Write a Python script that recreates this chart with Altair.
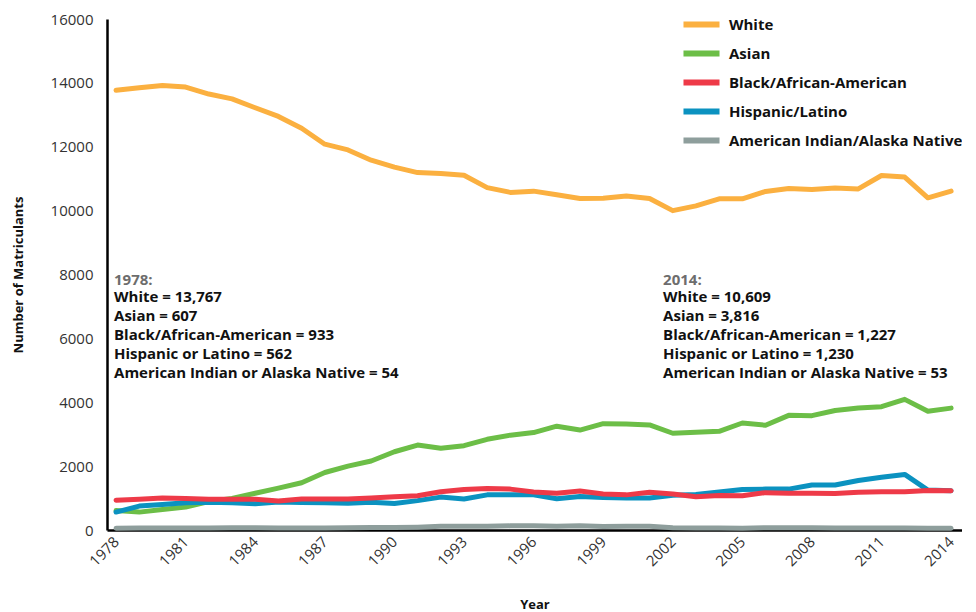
import altair as alt
import pandas as pd

years = list(range(1978, 2015))
white = [13767, 13850, 13920, 13870, 13650, 13500, 13220, 12950, 12580, 12080,
         11900, 11580, 11360, 11190, 11160, 11110, 10720, 10570, 10610, 10500,
         10380, 10390, 10460, 10380, 10000, 10150, 10370, 10370, 10600, 10690,
         10660, 10710, 10680, 11100, 11050, 10400, 10609]
asian = [607, 560, 640, 720, 890, 990, 1150, 1310, 1480, 1800,
         2000, 2160, 2450, 2660, 2560, 2640, 2840, 2970, 3050, 3250,
         3130, 3330, 3320, 3290, 3030, 3060, 3090, 3350, 3280, 3590,
         3580, 3740, 3820, 3860, 4090, 3720, 3816]
black = [933, 960, 1000, 990, 960, 960, 960, 910, 970, 970,
         970, 1000, 1040, 1070, 1200, 1270, 1300, 1280, 1190, 1150,
         1220, 1130, 1100, 1180, 1130, 1040, 1080, 1070, 1170, 1150,
         1150, 1140, 1180, 1200, 1200, 1240, 1227]
hispanic = [562, 750, 800, 850, 870, 850, 820, 880, 860, 850,
            840, 870, 830, 920, 1030, 970, 1100, 1100, 1100, 980,
            1050, 1020, 1000, 1000, 1090, 1110, 1190, 1270, 1280, 1280,
            1410, 1410, 1550, 1650, 1740, 1250, 1230]
aian = [54, 60, 65, 65, 60, 70, 70, 60, 60, 65,
        70, 75, 75, 90, 115, 120, 120, 130, 130, 120,
        130, 110, 115, 115, 70, 60, 65, 55, 70, 70,
        70, 65, 65, 60, 60, 55, 53]

groups = ["White", "Asian", "Black/African-American", "Hispanic/Latino",
          "American Indian/Alaska Native"]
colors = ["#FBB040", "#6CBE47", "#EE3A48", "#0B92C0", "#8E9E9C"]
series = {
    "American Indian/Alaska Native": aian,
    "Asian": asian,
    "Hispanic/Latino": hispanic,
    "Black/African-American": black,
    "White": white,
}
x_ticks = list(range(1978, 2015, 3))

rows = []
for g, vals in series.items():
    for y, v in zip(years, vals):
        rows.append({"Year": y, "Group": g, "Value": v})
df = pd.DataFrame(rows)

def body(i):
    return [
        f"White = {white[i]:,}",
        f"Asian = {asian[i]:,}",
        f"Black/African-American = {black[i]:,}",
        f"Hispanic or Latino = {hispanic[i]:,}",
        f"American Indian or Alaska Native = {aian[i]:,}",
    ]

ann_first = pd.DataFrame([{"Year": years[0], "Value": 8000,
                           "head": f"{years[0]}:", "body": body(0)}])
ann_last = pd.DataFrame([{"Year": years[-1], "Value": 8000,
                          "head": f"{years[-1]}:", "body": body(-1)}])

FONT = "Open Sans"

xscale = alt.Scale(domain=[1977.61, 2014.47], nice=False, zero=False)
yscale = alt.Scale(domain=[0, 16000], nice=False)

lines = alt.Chart(df).mark_line(strokeWidth=5, strokeCap="round", strokeJoin="round").encode(
    x=alt.X("Year:Q", scale=xscale,
            axis=alt.Axis(values=x_ticks, format="d", labelAngle=-45, labelAlign="right",
                          labelBaseline="middle", ticks=False, tickSize=0, labelPadding=9,
                          title="Year", titleY=74, titleBaseline="middle",
                          grid=False)),
    y=alt.Y("Value:Q", scale=yscale,
            axis=alt.Axis(values=list(range(0, 16001, 2000)), format="d", ticks=False,
                          tickSize=0, labelPadding=14, title="Number of Matriculants",
                          titleX=-89, titleBaseline="middle", grid=False)),
    color=alt.Color("Group:N", scale=alt.Scale(domain=groups, range=colors),
                    legend=alt.Legend(title=None, orient="none", legendX=578, legendY=-11,
                                      symbolType="M-1.36,0H1.36", symbolSize=702,
                                      symbolStrokeWidth=6, symbolFillColor="transparent",
                                      labelFont=FONT,
                                      labelFontSize=15, labelFontWeight="bold",
                                      labelColor="#111111", labelOffset=11,
                                      rowPadding=-1.5, labelLimit=400)),
    detail="Group:N",
)

def block(data, dx):
    head = alt.Chart(data).mark_text(align="left", baseline="middle", font=FONT,
                                     fontSize=15, fontWeight="bold", color="#6d6d6d",
                                     dx=dx, dy=5).encode(x="Year:Q", y="Value:Q", text="head")
    bod = alt.Chart(data).mark_text(align="left", baseline="top", font=FONT, fontSize=15,
                                    fontWeight="bold", color="#111111", dx=dx, dy=15,
                                    lineHeight=19).encode(x="Year:Q", y="Value:Q", text="body")
    return head + bod

chart = alt.layer(lines, block(ann_first, -2), block(ann_last, -288)).properties(
    width=855, height=511, autosize="none",
    padding={"left": 99, "top": 11, "right": 0, "bottom": 82},
).configure_axis(
    domainColor="#000000", domainWidth=2.5, labelFont=FONT, labelFontSize=15,
    labelColor="#333333", titleFont=FONT, titleFontSize=13, titleFontWeight="bold",
    titleColor="#111111",
).configure_view(stroke=None)

chart.save("out.html", embed_options={"renderer": "svg", "actions": False})
